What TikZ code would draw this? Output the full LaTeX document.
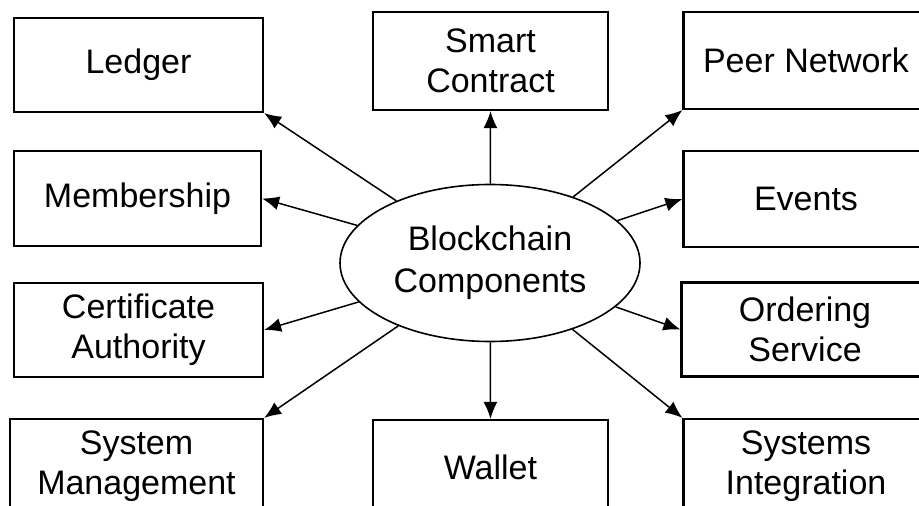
\documentclass[tikz,border=0pt]{standalone}
\usepackage{fontspec}
\setmainfont{Liberation Sans}
\usetikzlibrary{arrows.meta,shapes.geometric}

\begin{document}
\begin{tikzpicture}[x=0.5pt, y=-0.5pt,
                    partnode/.style={rectangle, draw=black, line width=1.1pt, minimum width=124.5pt, minimum height=47pt, inner sep=0pt, align=center, font=\fontsize{17}{20}\selectfont},
                    corenode/.style={ellipse, draw=black, line width=0.8pt, minimum width=150pt, minimum height=78.5pt, inner sep=0pt, align=center, font=\fontsize{17}{21}\selectfont},
                    link/.style={line width=0.75pt, -{Latex[length=8.5pt, width=7pt]}},
                ]
                    \useasboundingbox (0,0) rectangle (919,506);
                    \clip (0,0) rectangle (919,506);

                    %Nodes
                    \node[corenode](core) at (490,263) {Blockchain\\Components};
                    \node[partnode](ledger) at (138.5,65) {Ledger};
                    \node[partnode, minimum width=123.5pt, minimum height=47.5pt](member) at (137.5,198.5) {Membership};
                    \node[partnode](cert) at (138.5,330) {Certificate\\Authority};
                    \node[partnode, minimum width=126.5pt](sysmgmt) at (136.5,466) {System\\Management};
                    \node[partnode, minimum width=117.5pt, minimum height=49pt](smart) at (490.5,61) {Smart\\Contract};
                    \node[partnode, minimum width=117.5pt](wallet) at (490.5,467) {Wallet};
                    \node[partnode, minimum width=122.5pt, minimum height=48.5pt](peer) at (806,60.5) {Peer Network};
                    \node[partnode, minimum width=122.5pt, minimum height=48pt](events) at (806,199) {Events};
                    \node[partnode, minimum width=123.5pt](ordering) at (805,329.5) {Ordering\\Service};
                    \node[partnode, minimum width=122.5pt](integ) at (806,466) {Systems\\Integration};

                    %Lines
                    \draw[link](core) -- (ledger.south east);
                    \draw[link](core) -- (member.east);
                    \draw[link](core) -- (cert.east);
                    \draw[link](core) -- (sysmgmt.north east);
                    \draw[link](core) -- (smart.south);
                    \draw[link](core) -- (wallet.north);
                    \draw[link](core) -- (peer.south west);
                    \draw[link](core) -- (events.west);
                    \draw[link](core) -- (ordering.west);
                    \draw[link](core) -- (integ.north west);
                \end{tikzpicture}
\end{document}
